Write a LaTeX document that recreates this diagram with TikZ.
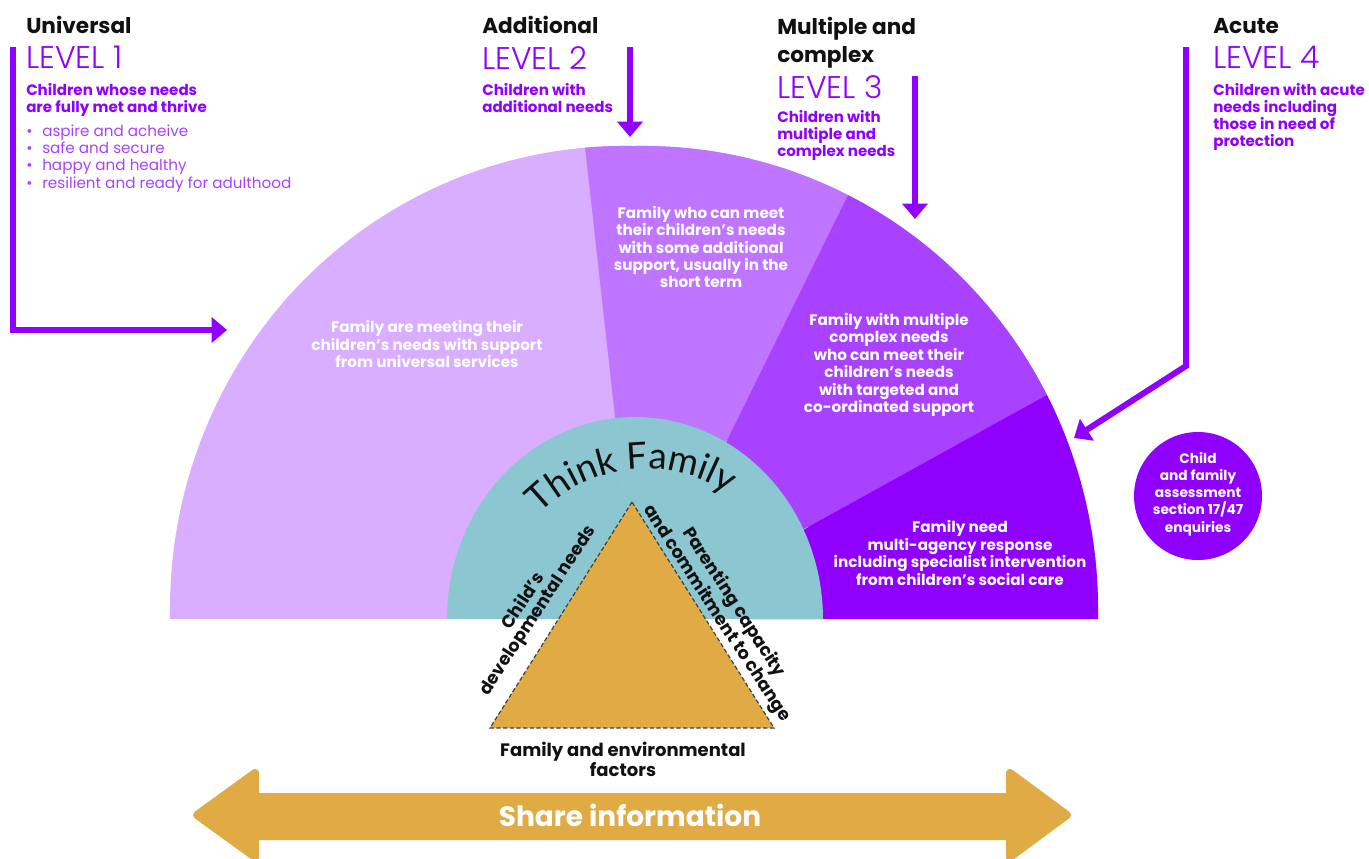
\documentclass[tikz,border=0pt]{standalone}
\usepackage{fontspec}
\setmainfont{Poppins}
\newfontfamily\levfont{Poppins Light}
\newfontfamily\titlefont{Lato}
\usetikzlibrary{arrows.meta,decorations.text}
\definecolor{pA}{HTML}{D9ADFF}
\definecolor{pB}{HTML}{BF75FF}
\definecolor{pC}{HTML}{A842FF}
\definecolor{pD}{HTML}{8F00FF}
\definecolor{teal}{HTML}{8CC6D1}
\definecolor{tealline}{HTML}{93CAD5}
\definecolor{gold}{HTML}{E0AB45}
\definecolor{ink}{HTML}{111111}
\newcommand{\sz}[2]{\fontsize{#1}{#2}\selectfont}
\newcommand{\bul}{\makebox[12pt][l]{•}}
\tikzset{
  flow/.style={draw=pD,line width=4.5pt,miter limit=10,-{Triangle[length=11.5pt,width=18.75pt]}},
  blk/.style={inner sep=0,anchor=north west,align=left,execute at begin node={\strut}},
  head/.style={blk,text=ink,font=\sz{16.2}{21.5}\bfseries},
  lev/.style={blk,text=pD,font=\sz{23.5}{24}\levfont},
  sub/.style={blk,text=pD,font=\sz{11.3}{12.8}\bfseries},
  items/.style={blk,text=pC,font=\sz{11.4}{12.8}},
  white/.style={inner sep=0,align=center,text=white,font=\sz{11.4}{13.1}\bfseries},
  side/.style={inner sep=0,align=center,text=ink,font=\sz{13.2}{12.9}\bfseries},
}
\begin{document}
\begin{tikzpicture}[x=0.75pt,y=-0.75pt]
\useasboundingbox (0,0) rectangle (1369,858);
% sectors
\begin{scope}
\clip plot[domain=180:0,samples=141] ({634+464*cos(\x)*(1+0.01*abs(sin(2*\x)))},{619-473*sin(\x)*(1+0.01*abs(sin(2*\x)))}) -- cycle;
\fill[pA] (160,120) rectangle (1110,619);
\fill[pB] (615,417) -- (582,120) -- (885,120) -- (727,440) -- (700,495) -- (640,500) -- cycle;
\fill[pC] (700,495) -- (885,120) -- (1110,120) -- (1110,360) -- (750,559) -- cycle;
\fill[pD] (750,559) -- (1110,360) -- (1110,619) -- (750,619) -- cycle;
\end{scope}
% think family half disc
\fill[teal] plot[domain=180:0,samples=90] ({635+188*cos(\x)},{619-202*sin(\x)}) -- cycle;
\draw[tealline,line width=0.4pt] (615,417) -- (625,500) (727,440) -- (682,535) (808,527) -- (735,565);
% triangle
\node[coordinate] (ta) at (632,502) {};
\node[coordinate] (tb) at (490,728) {};
\node[coordinate] (tc) at (774,728) {};
\fill[gold] (ta) -- (tb) -- (tc) -- cycle;
\draw[ink!80,line width=0.9pt,dash pattern=on 3.2pt off 1.8pt] (ta) -- (tb) -- (tc) -- cycle;
% curved title
\path[decorate,decoration={text along path,text align=center,
  text={|\titlefont\sz{27.5}{30}\color{ink}|Think Family}}]
  plot[domain=166:26,samples=60] ({646+148*cos(\x)},{617-148*sin(\x)});
% side labels
\node[side,rotate=57] (child) at (531,606) {Child’s\\developmental needs};
\node[side,rotate=-57] (parent) at (725,608) {Parenting capacity\\and commitment to change};
\node[side,font=\sz{13.5}{12.2}\bfseries] (env) at (623,759) {Family and environmental\\factors};
% sector texts
\node[white] (s1) at (427,344) {Family are meeting their\\children’s needs with support\\from universal services};
\node[white] (s2) at (701,247) {Family who can meet\\their children’s needs\\with some additional\\support, usually in the\\short term};
\node[white] (s3) at (889,365) {Family with multiple\\complex needs\\who can meet their\\children’s needs\\with targeted and\\co-ordinated support};
\node[white] (s4) at (960,553) {Family need\\multi-agency response\\including specialist intervention\\from children’s social care};
% circle
\node[circle,fill=pD,minimum size=96pt,inner sep=0] (assess) at (1198,496) {};
\node[white,font=\sz{10.3}{12.9}\bfseries] (assesst) at (1198,494) {Child\\and family\\assessment\\section 17/47\\enquiries};
% headings
\node[head] (h1) at (26,13) {Universal};
\node[lev] (l1) at (26,46) {LEVEL 1};
\node[sub] (t1) at (26,83) {Children whose needs\\are fully met and thrive};
\node[items] (i1) at (26,125) {\bul aspire and acheive\\\bul safe and secure\\\bul happy and healthy\\\bul resilient and ready for adulthood};
\node[head] (h2) at (482,13) {Additional};
\node[lev] (l2) at (482,46) {LEVEL 2};
\node[sub] (t2) at (482,83) {Children with\\additional needs};
\node[head] (h3) at (777,16.5) {Multiple and\\complex};
\node[lev] (l3) at (777,75) {LEVEL 3};
\node[sub] (t3) at (777,110) {Children with\\multiple and\\complex needs};
\node[head] (h4) at (1213,13) {Acute};
\node[lev] (l4) at (1213,46) {LEVEL 4};
\node[sub] (t4) at (1213,83) {Children with acute\\needs including\\those in need of\\protection};
% arrows
\coordinate (a1s) at (13,47); \coordinate (a1m) at (13,330); \coordinate (a1e) at (227,330);
\coordinate (a2s) at (630,47); \coordinate (a2e) at (630,137);
\coordinate (a3s) at (915,76); \coordinate (a3e) at (915,219);
\coordinate (a4s) at (1186,47); \coordinate (a4m) at (1186,366); \coordinate (a4e) at (1074,438);
\draw[flow] (a1s) -- (a1m) -- (a1e);
\draw[flow] (a2s) -- (a2e);
\draw[flow] (a3s) -- (a3e);
\draw[flow] (a4s) -- (a4m) -- (a4e);
% share arrow
\fill[gold,draw=gold,line width=6pt,line join=round]
  (197,815) -- (255,773) -- (255,797) -- (1010,797) -- (1010,773) -- (1067,815) -- (1010,857) -- (1010,836) -- (255,836) -- (255,857) -- cycle;
\node[inner sep=0,text=white,font=\sz{21}{24}\bfseries] (share) at (630,815) {Share information};
\end{tikzpicture}
\end{document}
